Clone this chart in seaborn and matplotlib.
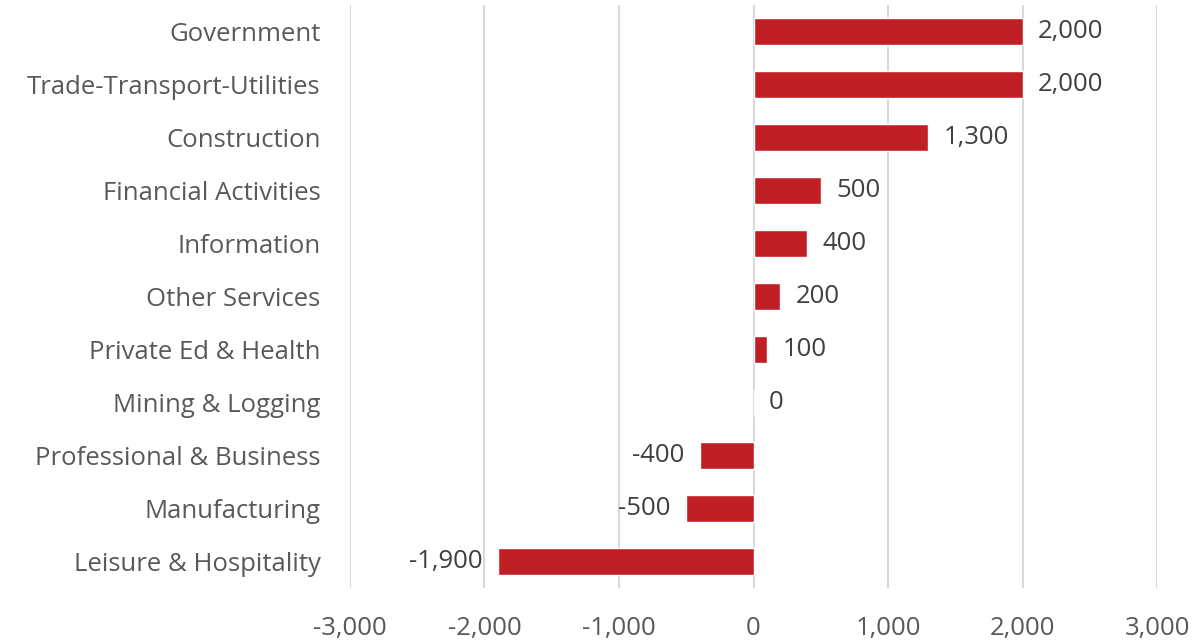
import matplotlib
matplotlib.use("Agg")
import matplotlib.pyplot as plt
import seaborn as sns
import pandas as pd
from matplotlib.ticker import FuncFormatter

categories = ["Government", "Trade-Transport-Utilities", "Construction",
              "Financial Activities", "Information", "Other Services",
              "Private Ed & Health", "Mining & Logging", "Professional & Business",
              "Manufacturing", "Leisure & Hospitality"]
values = [2000, 2000, 1300, 500, 400, 200, 100, 0, -400, -500, -1900]
x_ticks = [-3000, -2000, -1000, 0, 1000, 2000, 3000]

df = pd.DataFrame({"category": categories, "value": values})

sns.set_theme(style="white")
plt.rcParams['font.family'] = ['Open Sans', 'DejaVu Sans']

fig = plt.figure(figsize=(11.98, 6.42), dpi=100)
ax = fig.add_axes([0.292, 0.084, 0.674, 0.908])

sns.barplot(data=df, x="value", y="category", orient="h", color="#C01F26",
            saturation=1, width=0.5, ax=ax, order=categories)

ax.set_xlim(-3000, 3000)
ax.set_ylim(10.5, -0.5)
ax.set_xticks(x_ticks)
ax.xaxis.set_major_formatter(FuncFormatter(lambda v, p: f"{v:,.0f}"))
ax.grid(axis="x", color="#D9D9D9", linewidth=1.5)
ax.grid(axis="y", visible=False)
ax.set_axisbelow(True)
for s in ax.spines.values():
    s.set_visible(False)
ax.set_xlabel("")
ax.set_ylabel("")
ax.tick_params(axis="both", length=0, labelsize=18.5, colors="#595959")
ax.tick_params(axis="y", pad=21)
ax.tick_params(axis="x", pad=20)

for c in ax.containers:
    ax.bar_label(c, labels=[f"{v:,.0f}" for v in values], padding=11,
                 fontsize=18.5, color="#404040")

fig.savefig("out.png", dpi=100)
